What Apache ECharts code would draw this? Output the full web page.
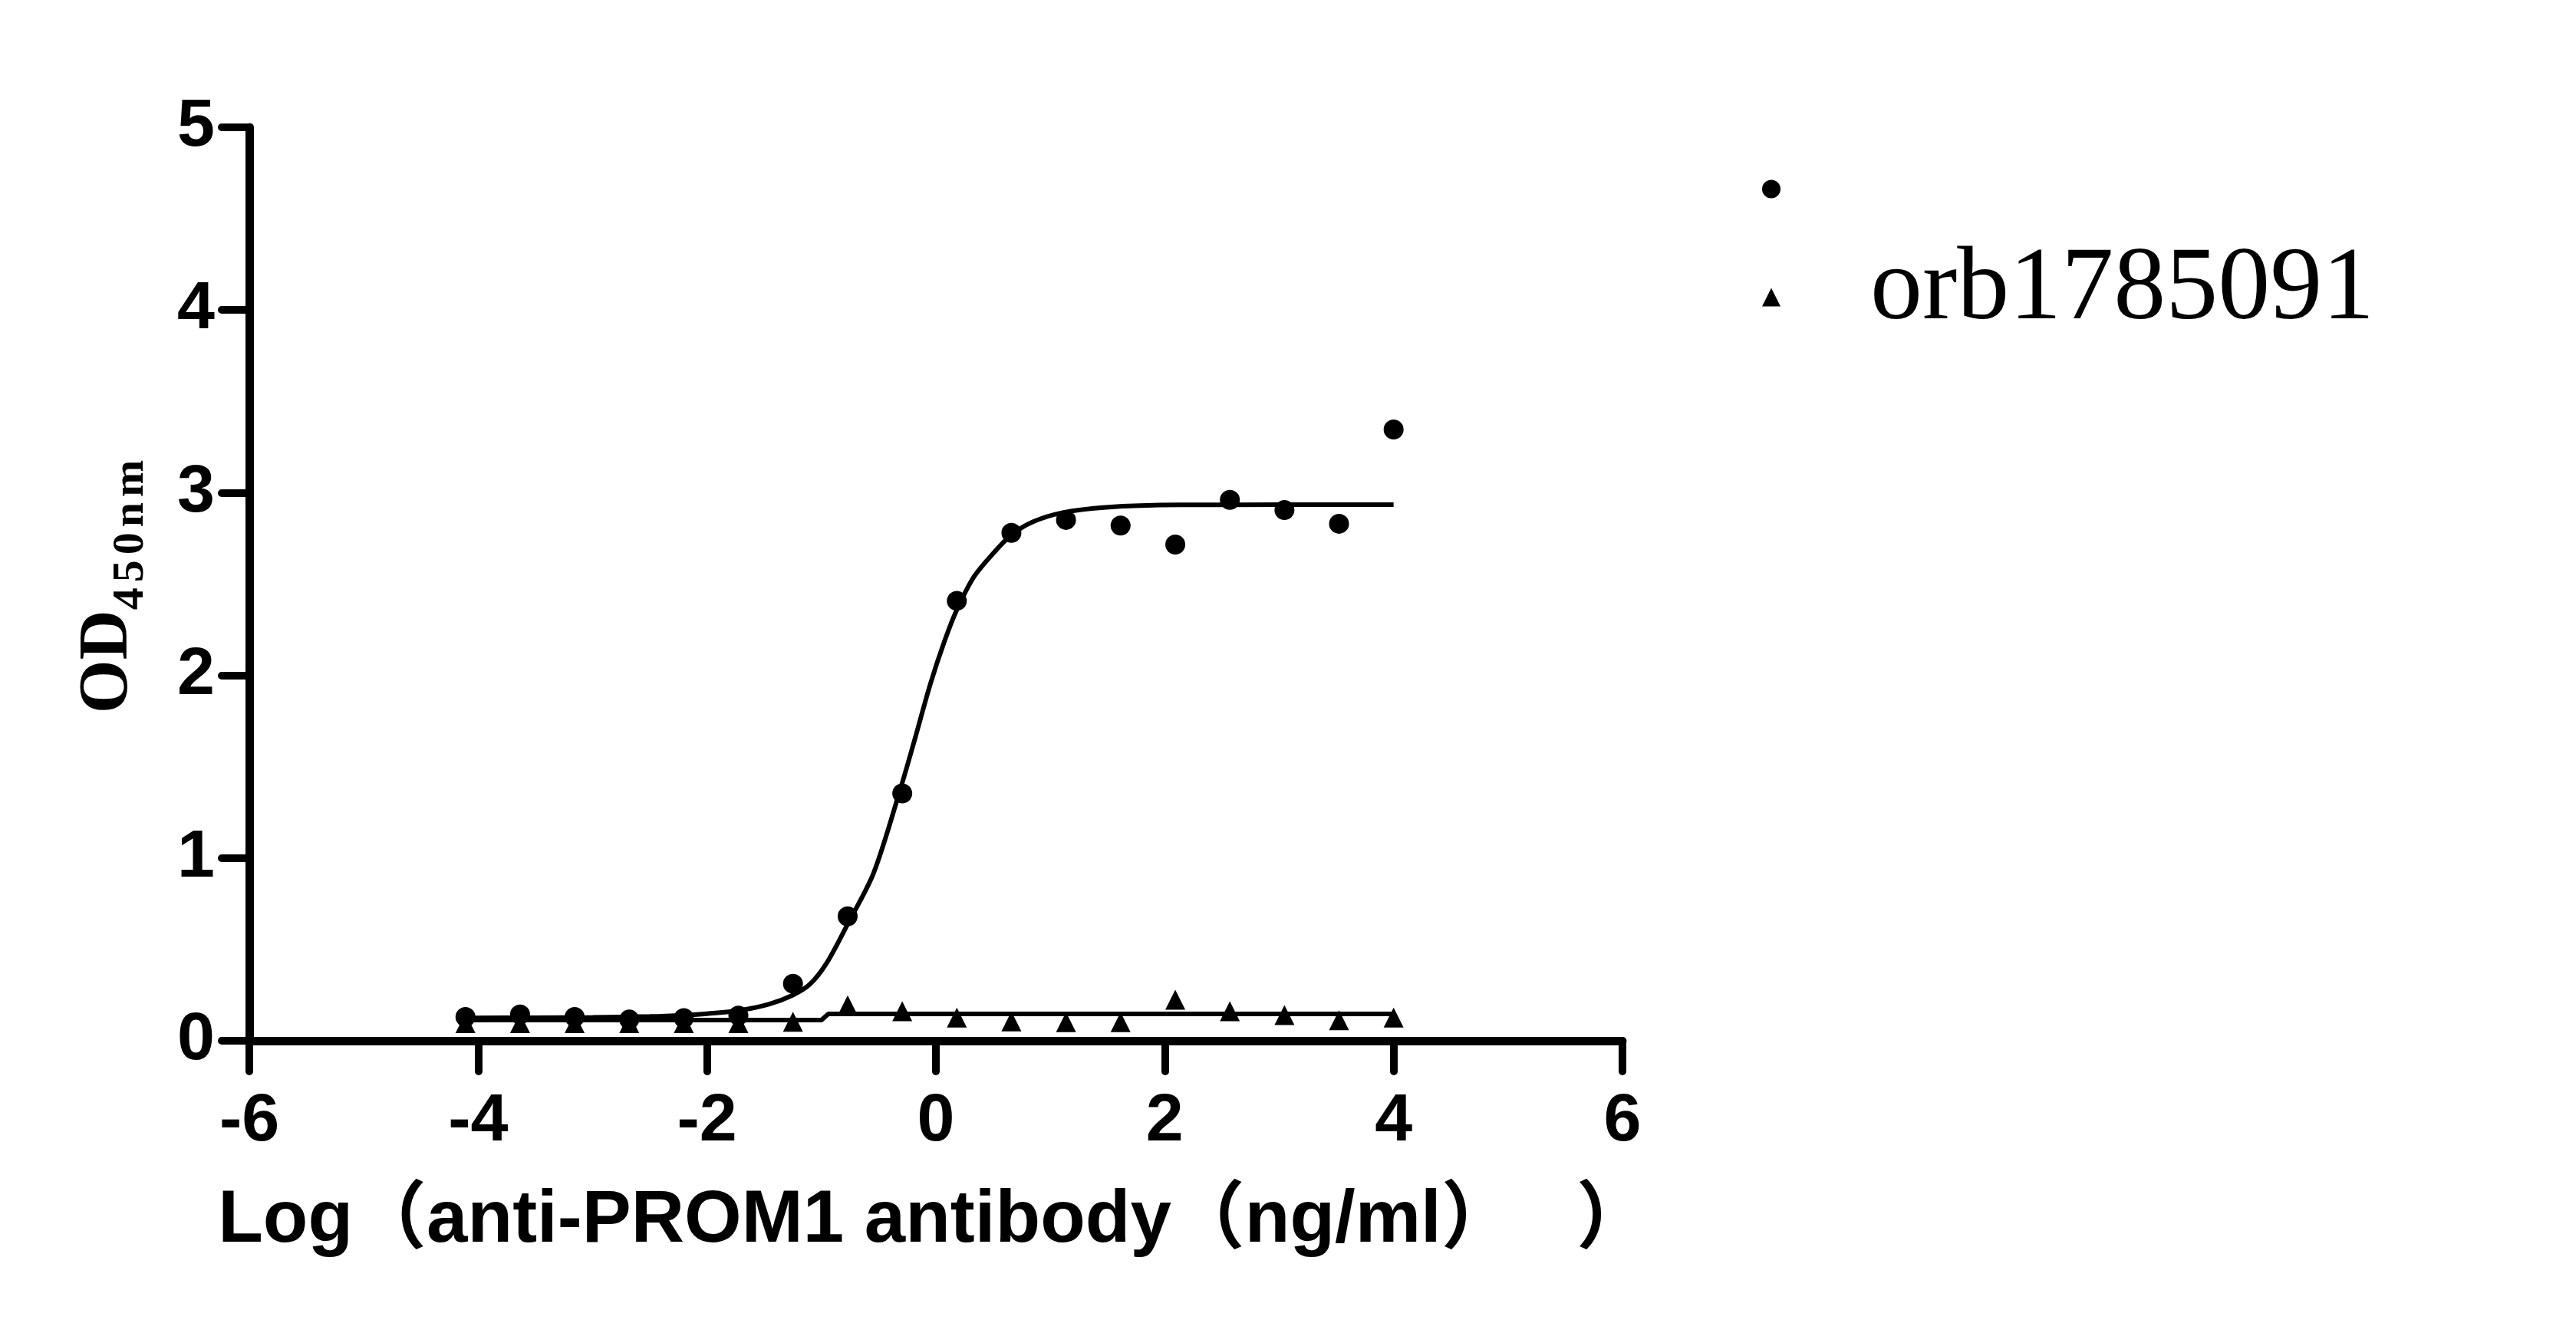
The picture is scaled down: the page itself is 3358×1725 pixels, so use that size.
<!DOCTYPE html>
<html>
<head>
<meta charset="utf-8">
<script src="https://cdn.jsdelivr.net/npm/echarts@6/dist/echarts.min.js"></script>
<style>
html,body{margin:0;padding:0;background:#fff;}
#chart{width:3358px;height:1725px;}
</style>
</head>
<body>
<div id="chart"></div>
<script>
// log10 concentrations (3-fold dilutions)
const logConc = [-4.111, -3.634, -3.157, -2.680, -2.203, -1.726, -1.249, -0.771, -0.294, 0.183, 0.660, 1.137, 1.614, 2.092, 2.569, 3.046, 3.523, 4.000];
// OD450 of the first series (circles)
const odCircle = [0.130, 0.144, 0.130, 0.116, 0.124, 0.138, 0.312, 0.681, 1.354, 2.408, 2.780, 2.851, 2.820, 2.716, 2.961, 2.905, 2.830, 3.346];
// OD450 of orb1785091 (triangles)
const odTriangle = [0.097, 0.097, 0.097, 0.097, 0.097, 0.097, 0.104, 0.194, 0.162, 0.127, 0.106, 0.102, 0.102, 0.225, 0.162, 0.141, 0.112, 0.127];
// fitted curve (circles)
const fitCircleX = [-4.111, -3.5, -3.0, -2.5, -2.2, -2.0, -1.71, -1.46, -1.25, -1.1, -0.95, -0.77, -0.543, -0.30, -0.18, -0.05, 0.077, 0.184, 0.333, 0.504, 0.662, 0.846, 1.102, 1.487, 2.129, 3.0, 4.0];
const fitCircleY = [0.125, 0.126, 0.128, 0.133, 0.140, 0.148, 0.167, 0.200, 0.250, 0.310, 0.430, 0.640, 0.920, 1.400, 1.660, 1.950, 2.190, 2.360, 2.540, 2.670, 2.770, 2.840, 2.890, 2.920, 2.933, 2.934, 2.934];
// fitted line (triangles)
const fitTriX = [-4.111, -1.0, -0.94, 4.0];
const fitTriY = [0.113, 0.113, 0.147, 0.147];
const xTicks = [-6, -4, -2, 0, 2, 4, 6];
const yTicks = [0, 1, 2, 3, 4, 5];
const seriesNames = [' ', 'orb1785091'];

const zip = (xs, ys) => xs.map((x, i) => [x, ys[i]]);

const chart = echarts.init(document.getElementById('chart'), null, {renderer: 'canvas'});
const sansBold = {fontFamily: 'Liberation Sans, Arial, "Noto Sans CJK SC", sans-serif', fontWeight: 'bold', color: '#000'};
const serif = 'Liberation Serif, "Times New Roman", serif';

chart.setOption({
  backgroundColor: '#fff',
  animation: false,
  grid: {left: 325, right: 1243, top: 166, bottom: 368, containLabel: false},
  xAxis: {
    type: 'value', min: xTicks[0], max: xTicks[xTicks.length - 1], interval: 2,
    axisLine: {onZero: false, lineStyle: {color: '#000', width: 11, cap: 'round'}},
    axisTick: {length: 40, lineStyle: {color: '#000', width: 10, cap: 'round'}},
    splitLine: {show: false},
    axisLabel: Object.assign({fontSize: 88, margin: 62}, sansBold),
    name: 'Log（anti-PROM1 antibody（ng/ml）   ）',
    nameLocation: 'middle',
    nameGap: 188,
    nameTextStyle: Object.assign({fontSize: 96, lineHeight: 96, padding: [0, 5, 0, 0]}, sansBold)
  },
  yAxis: {
    type: 'value', min: yTicks[0], max: yTicks[yTicks.length - 1], interval: 1,
    axisLine: {onZero: false, lineStyle: {color: '#000', width: 11, cap: 'round'}},
    axisTick: {length: 36, lineStyle: {color: '#000', width: 10, cap: 'round'}},
    splitLine: {show: false},
    axisLabel: Object.assign({fontSize: 88, margin: 45}, sansBold),
    name: '{a|OD}{s|4}{s|5}{s|0}{s|n}{s|m}',
    nameLocation: 'middle',
    nameGap: 125,
    nameTextStyle: {
      color: '#000',
      rich: {
        a: {fontFamily: serif, fontWeight: 'bold', fontSize: 90, lineHeight: 90, verticalAlign: 'top', color: '#000'},
        s: {fontFamily: serif, fontWeight: 'bold', fontSize: 58, verticalAlign: 'top', padding: [45, 7, 0, 0], color: '#000'}
      }
    }
  },
  legend: {
    orient: 'vertical',
    left: 2292,
    top: 165,
    itemWidth: 24,
    itemHeight: 24,
    itemGap: -12,
    data: [{name: seriesNames[0], icon: 'circle'}, {name: seriesNames[1], icon: 'triangle'}],
    formatter: function (name) { return '{t|' + name + '}'; },
    textStyle: {
      color: '#000',
      rich: {
        t: {fontFamily: serif, fontSize: 136, lineHeight: 136, color: '#000', padding: [0, 0, 17, 112]}
      }
    }
  },
  series: [
    {
      name: 'fit1', type: 'line', data: zip(fitCircleX, fitCircleY), smooth: 0.3,
      showSymbol: false, symbol: 'none', lineStyle: {color: '#000', width: 6}, z: 2, silent: true
    },
    {
      name: 'fit2', type: 'line', data: zip(fitTriX, fitTriY), smooth: false,
      showSymbol: false, symbol: 'none', lineStyle: {color: '#000', width: 6}, z: 2, silent: true
    },
    {
      name: seriesNames[0], type: 'scatter', data: zip(logConc, odCircle),
      symbol: 'circle', symbolSize: 26, itemStyle: {color: '#000', opacity: 1}, z: 3
    },
    {
      name: seriesNames[1], type: 'scatter', data: zip(logConc, odTriangle),
      symbol: 'triangle', symbolSize: 26, itemStyle: {color: '#000', opacity: 1}, z: 3
    }
  ]
});
</script>
</body>
</html>
